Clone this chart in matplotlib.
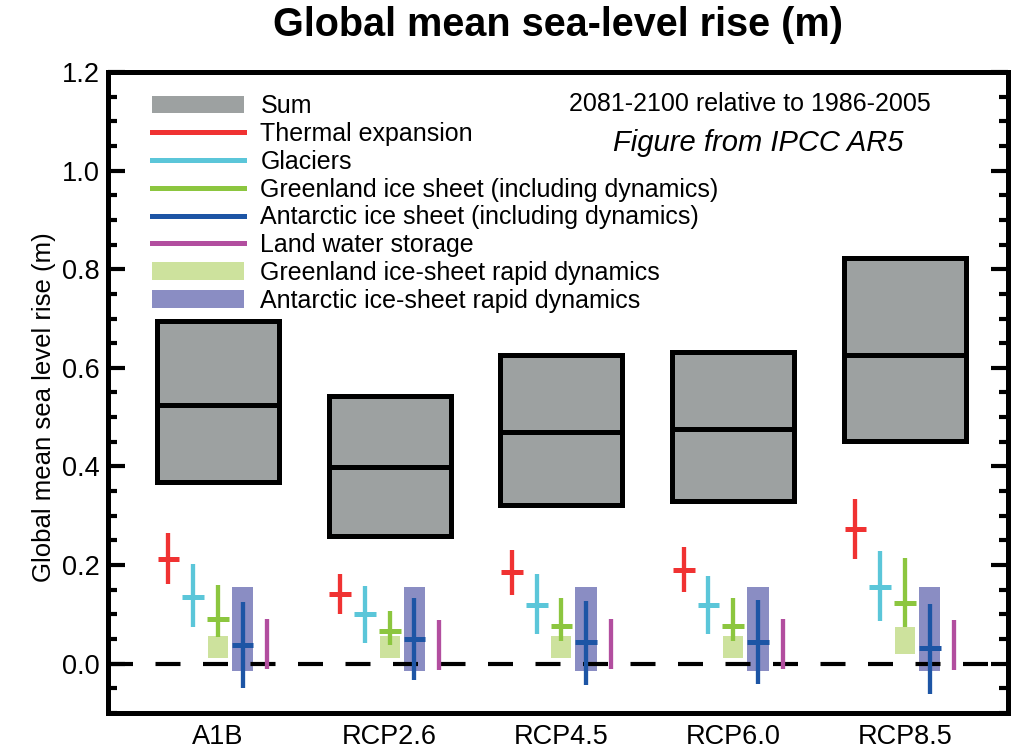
import numpy as np
import matplotlib
matplotlib.use("Agg")
from matplotlib import pyplot as plt
from matplotlib.patches import Patch
from matplotlib.lines import Line2D
from matplotlib.ticker import MultipleLocator

plt.rcParams['font.family'] = ['Liberation Sans', 'DejaVu Sans']

scenarios = ['A1B', 'RCP2.6', 'RCP4.5', 'RCP6.0', 'RCP8.5']

# sum (likely range + median)
sum_med = [0.525, 0.399, 0.469, 0.475, 0.626]
sum_lo = [0.368, 0.259, 0.322, 0.329, 0.451]
sum_hi = [0.695, 0.543, 0.626, 0.632, 0.822]

thermal_med = [0.213, 0.141, 0.185, 0.191, 0.273]
thermal_lo = [0.162, 0.101, 0.139, 0.146, 0.212]
thermal_hi = [0.265, 0.182, 0.231, 0.236, 0.333]

glaciers_med = [0.136, 0.100, 0.119, 0.119, 0.155]
glaciers_lo = [0.075, 0.042, 0.061, 0.061, 0.086]
glaciers_hi = [0.202, 0.157, 0.182, 0.178, 0.228]

greenland_med = [0.091, 0.066, 0.077, 0.077, 0.123]
greenland_lo = [0.054, 0.037, 0.047, 0.047, 0.074]
greenland_hi = [0.160, 0.106, 0.133, 0.133, 0.215]

antarctic_med = [0.038, 0.051, 0.045, 0.045, 0.032]
antarctic_lo = [-0.050, -0.034, -0.044, -0.042, -0.061]
antarctic_hi = [0.126, 0.133, 0.128, 0.129, 0.121]

landwater_lo = [-0.011, -0.012, -0.011, -0.011, -0.012]
landwater_hi = [0.090, 0.089, 0.090, 0.090, 0.089]

gris_rapid_lo = [0.012, 0.012, 0.012, 0.012, 0.020]
gris_rapid_hi = [0.056, 0.056, 0.056, 0.056, 0.074]

ais_rapid_lo = [-0.015, -0.014, -0.015, -0.015, -0.015]
ais_rapid_hi = [0.155, 0.155, 0.155, 0.155, 0.155]

c_sum = '#9DA1A1'
c_thermal = '#F03232'
c_glac = '#5BC6D9'
c_gris = '#8CC63F'
c_ais = '#1D55A5'
c_land = '#B24E9F'
c_gris_rapid = '#CDE29D'
c_ais_rapid = '#8A8DC3'

W, H = 1019, 754
fig = plt.figure(figsize=(W / 100, H / 100), dpi=100)
ax = fig.add_axes([108 / W, 1 - 713 / H, 900 / W, 641 / H])

x = np.arange(1, len(scenarios) + 1)
step = 0.144
box_w = 0.71
cap = 0.126
lw_v = 3.1
lw_h = 3.6

# sum boxes
ax.bar(x, np.array(sum_hi) - np.array(sum_lo), bottom=sum_lo, width=box_w,
       color=c_sum, edgecolor='black', linewidth=3.6, zorder=2)
ax.hlines(sum_med, x - box_w / 2, x + box_w / 2, color='black', linewidth=3.6, zorder=3)

# rapid dynamics boxes
ax.bar(x, np.array(gris_rapid_hi) - np.array(gris_rapid_lo), bottom=gris_rapid_lo,
       width=0.116, color=c_gris_rapid, linewidth=0, zorder=2)
ax.bar(x + step, np.array(ais_rapid_hi) - np.array(ais_rapid_lo), bottom=ais_rapid_lo,
       width=0.125, color=c_ais_rapid, linewidth=0, zorder=2)

# zero line
ax.axhline(0, color='black', linewidth=3, linestyle=(0, (6, 5.4)), zorder=3)

# components: vertical range + median bar
comps = [
    (-2, thermal_lo, thermal_hi, thermal_med, c_thermal),
    (-1, glaciers_lo, glaciers_hi, glaciers_med, c_glac),
    (0, greenland_lo, greenland_hi, greenland_med, c_gris),
    (1, antarctic_lo, antarctic_hi, antarctic_med, c_ais),
]
for k, lo, hi, med, col in comps:
    xx = x + k * step
    ax.vlines(xx, lo, hi, color=col, linewidth=lw_v, zorder=4)
    ax.hlines(med, xx - cap / 2, xx + cap / 2, color=col, linewidth=lw_h, zorder=4)
ax.vlines(x + 2 * step, landwater_lo, landwater_hi, color=c_land, linewidth=lw_v, zorder=4)

ax.set_xlim(0.36, 5.60)
ax.set_ylim(-0.1, 1.2)
ax.set_xticks(x)
ax.set_xticklabels(scenarios, fontsize=19.5)
ax.tick_params(axis='x', length=0, pad=8)
ax.yaxis.set_major_locator(MultipleLocator(0.2))
ax.yaxis.set_minor_locator(MultipleLocator(0.05))
ax.yaxis.set_major_formatter(plt.FormatStrFormatter('%.1f'))
ax.tick_params(axis='y', which='both', direction='in', left=True, right=True,
               width=3, labelsize=19.5, pad=6)
ax.tick_params(axis='y', which='major', length=12)
ax.tick_params(axis='y', which='minor', length=6.5)
for s in ax.spines.values():
    s.set_linewidth(3.6)

ax.set_ylabel('Global mean sea level rise (m)', fontsize=18.5)
ax.yaxis.set_label_coords(-0.058, 0.477)

fig.text(558 / W, 1 - 25 / H, 'Global mean sea-level rise (m)', ha='center', va='center',
         fontsize=28.5, fontweight='bold')

ax.text(0.713, 0.950, '2081-2100 relative to 1986-2005', transform=ax.transAxes,
        ha='center', va='center', fontsize=18)
ax.text(0.722, 0.889, 'Figure from IPCC AR5', transform=ax.transAxes,
        ha='center', va='center', fontsize=21, style='italic')

handles = [
    Patch(facecolor=c_sum, edgecolor='none'),
    Line2D([], [], color=c_thermal, linewidth=3.6),
    Line2D([], [], color=c_glac, linewidth=3.6),
    Line2D([], [], color=c_gris, linewidth=3.6),
    Line2D([], [], color=c_ais, linewidth=3.6),
    Line2D([], [], color=c_land, linewidth=3.6),
    Patch(facecolor=c_gris_rapid, edgecolor='none'),
    Patch(facecolor=c_ais_rapid, edgecolor='none'),
]
labels = ['Sum', 'Thermal expansion', 'Glaciers',
          'Greenland ice sheet (including dynamics)',
          'Antarctic ice sheet (including dynamics)',
          'Land water storage',
          'Greenland ice-sheet rapid dynamics',
          'Antarctic ice-sheet rapid dynamics']
ax.legend(handles, labels, loc='upper left', bbox_to_anchor=(0.049, 0.965),
          frameon=False, fontsize=18, handlelength=3.66, handleheight=0.7,
          handletextpad=0.67, labelspacing=0.15, borderpad=0, borderaxespad=0)

fig.savefig('out.png', dpi=100)
